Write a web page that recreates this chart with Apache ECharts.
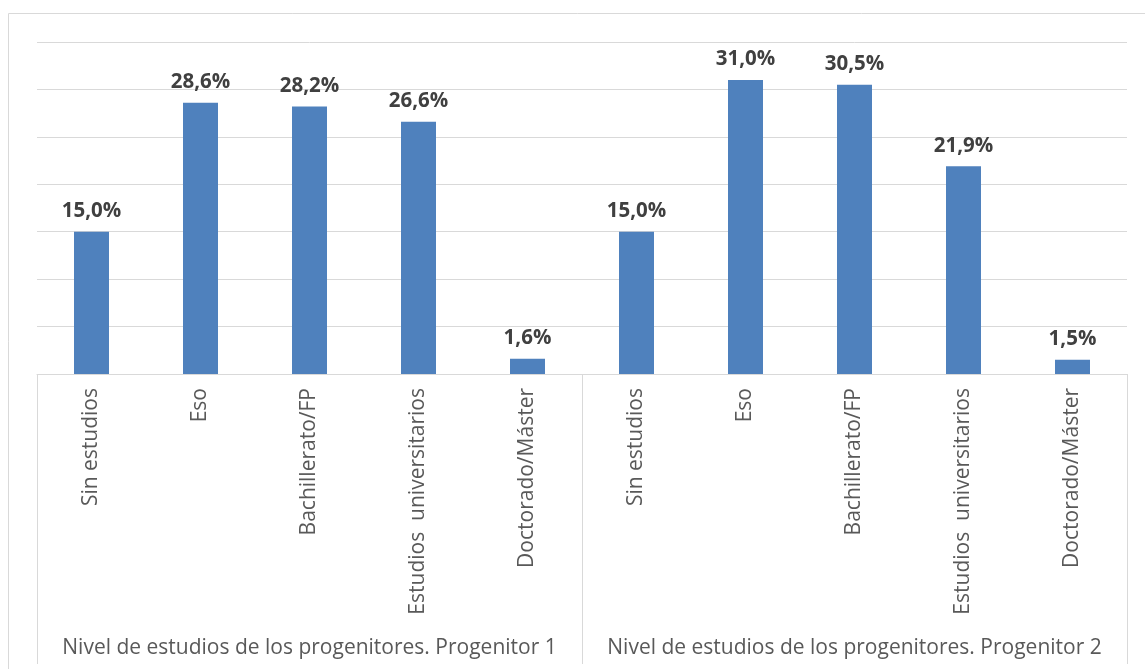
<!DOCTYPE html>
<html style="height: 100%">
   <head>
       <meta charset="utf-8">
   </head>
   <body style="height: 100%; margin: 0; background: #fff">
       <div id="container" style="height: 100%"></div>
       <script type="text/javascript" src="https://cdn.jsdelivr.net/npm/echarts@6/dist/echarts.min.js"></script>
       <script type="text/javascript">
            var niveles = ['Sin estudios', 'Eso', 'Bachillerato/FP', 'Estudios  universitarios', 'Doctorado/Máster'];
            var grupos = ['Nivel de estudios de los progenitores. Progenitor 1', 'Nivel de estudios de los progenitores. Progenitor 2'];
            var progenitor1 = [15.0, 28.6, 28.2, 26.6, 1.6];
            var progenitor2 = [15.0, 31.0, 30.5, 21.9, 1.5];

            var categorias = niveles.concat(niveles);
            var valores = progenitor1.concat(progenitor2);

            var dom = document.getElementById("container");
            var myChart = echarts.init(dom);
            var font = '"Open Sans", sans-serif';

            var option = {
                animation: false,
                graphic: [{
                    type: 'rect',
                    shape: {x: 8.5, y: 13.5, width: 1160, height: 700},
                    style: {fill: 'none', stroke: '#d9d9d9', lineWidth: 1}
                }],
                grid: {left: 37, right: 18, top: 42, bottom: 295},
                xAxis: [{
                    type: 'category',
                    data: categorias,
                    axisLine: {lineStyle: {color: '#d9d9d9', width: 1}},
                    axisTick: {show: false},
                    axisLabel: {
                        rotate: 90,
                        interval: 0,
                        margin: 14,
                        color: '#595959',
                        fontSize: 21,
                        fontFamily: font
                    }
                }, {
                    type: 'category',
                    data: grupos,
                    position: 'bottom',
                    offset: 290,
                    axisLine: {show: false},
                    axisTick: {show: true, inside: true, length: 290, lineStyle: {color: '#d9d9d9', width: 1}},
                    axisLabel: {
                        inside: true,
                        interval: 0,
                        margin: 5,
                        color: '#595959',
                        fontSize: 21,
                        fontFamily: font
                    }
                }],
                yAxis: {
                    type: 'value',
                    min: 0,
                    max: 35,
                    interval: 5,
                    axisLabel: {show: false},
                    axisLine: {show: false},
                    axisTick: {show: false},
                    splitLine: {lineStyle: {color: '#d9d9d9', width: 1}}
                },
                series: [{
                    type: 'bar',
                    data: valores,
                    barWidth: 35,
                    itemStyle: {color: '#4f81bd'},
                    label: {
                        show: true,
                        position: 'top',
                        distance: 10,
                        color: '#404040',
                        fontSize: 20.5,
                        fontWeight: 'bold',
                        fontFamily: font,
                        formatter: function (p) {
                            return p.value.toFixed(1).replace('.', ',') + '%';
                        }
                    }
                }]
            };
            myChart.setOption(option);
       </script>
   </body>
</html>
